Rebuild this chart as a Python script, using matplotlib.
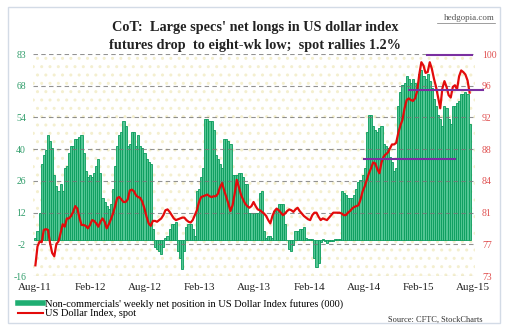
import numpy as np
import pandas as pd
import matplotlib
matplotlib.use("Agg")
import matplotlib.pyplot as plt
from matplotlib.lines import Line2D
from matplotlib.patches import Rectangle

# weekly net position of non-commercials in US dollar index futures (000 contracts)
net_longs = [
    1, 4, 12, 34, 38, 40, 47, 44, 41, 29, 24, 22, 25, 22, 32, 33, 39, 42, 42, 45,
    45, 46, 47, 39, 31, 28, 29, 28, 30, 33, 36, 30, 19, 17, 15, 14, 16, 23, 33, 42,
    47, 48, 53, 51, 42, 43, 48, 48, 42, 47, 42, 41, 39, 36, 35, 34, 5, -3, -4, -5,
    -6, -3, 1, 2, 5, 7, 7, 8, -5, -8, -13, -5, 6, 7, 7, 5, 2, 22, 23, 28,
    32, 54, 54, 53, 53, 49, 38, 36, 34, 32, 45, 45, 44, 43, 29, 29, 29, 30, 30, 28,
    25, 25, 12, 12, 12, 12, 12, 21, 22, 4, 1, 2, 2, 1, 13, 14, 16, 16, 16, 7,
    0, -4, -5, -2, 4, 4, 5, 5, 6, 1, 0.5, 0.3, 0.3, -8, -12, -10, -1, 0.5, -0.5, -1.5,
    -0.5, -0.5, -0.5, 0.5, 0.7, 0.7, 22, 21, 20, 19, 19, 19, 20, 23, 26, 27, 29, 32,
    48, 56, 56, 51, 49, 48, 50, 51, 43, 42, 41, 37, 35, 31, 32, 60, 66, 69, 70, 73,
    72, 70, 72, 70, 69, 74, 76, 73, 72, 74, 71, 68, 63, 60, 56, 54, 51, 60, 59, 54,
    52, 60, 60, 61, 62, 65, 65, 66, 65, 52,
]

# US dollar index, spot (weekly)
dxy = [
    74.3, 76.6, 77.2, 77.1, 78.6, 78.7, 78.6, 77.0, 75.8, 75.4, 76.9, 77.2, 78.2, 79.3, 79.0, 80.0,
    80.0, 80.3, 80.8, 81.5, 81.2, 80.1, 79.2, 79.2, 79.1, 78.8, 79.2, 79.8, 79.7, 79.4, 79.0, 79.6,
    80.0, 79.6, 78.8, 79.3, 79.9, 80.6, 81.5, 82.5, 82.6, 82.3, 82.0, 82.0, 82.3, 83.4, 83.5, 83.3,
    82.8, 82.6, 82.5, 82.0, 81.2, 80.2, 79.4, 79.1, 79.7, 79.7, 79.6, 79.8, 80.0, 80.4, 81.0, 81.1,
    80.8, 80.4, 80.0, 79.8, 79.9, 80.0, 80.1, 80.1, 79.8, 79.6, 79.5, 79.8, 80.4, 81.0, 82.0, 82.6,
    82.7, 82.8, 82.9, 82.7, 82.6, 82.7, 82.7, 83.0, 83.8, 84.3, 83.4, 82.6, 81.8, 80.9, 81.6, 83.0,
    84.7, 83.8, 82.9, 82.3, 81.8, 81.5, 81.3, 81.5, 82.0, 81.5, 81.1, 81.0, 80.8, 80.6, 80.3, 79.8,
    79.4, 80.3, 80.9, 81.2, 81.0, 80.7, 80.4, 80.6, 80.9, 81.1, 81.0, 80.8, 81.1, 81.3, 80.9, 80.6,
    80.3, 80.1, 79.9, 79.8, 80.4, 80.7, 80.7, 80.2, 79.8, 80.0, 79.9, 79.8, 80.1, 80.4, 80.7, 80.7,
    80.7, 80.7, 80.6, 80.4, 80.4, 80.7, 80.9, 81.2, 81.4, 81.5, 81.6, 82.3, 83.3, 83.9, 84.7, 85.5,
    86.1, 86.8, 86.7, 86.0, 85.5, 86.8, 87.5, 87.8, 88.0, 88.5, 89.0, 89.0, 89.2, 90.4, 91.3, 92.0,
    93.4, 94.4, 94.6, 94.4, 94.3, 94.6, 95.5, 97.5, 99.0, 98.6, 97.7, 97.8, 99.0, 98.2, 97.0, 96.0,
    94.7, 93.4, 95.8, 96.7, 96.0, 95.0, 94.7, 96.0, 96.2, 95.7, 97.3, 98.0, 97.8, 97.5, 96.8, 95.3,
]

dates = pd.date_range("2011-08-02", periods=len(net_longs), freq="7D")

left_ticks = ["-16", "-2", "12", "26", "40", "54", "68", "83"]
right_ticks = ["73", "77", "81", "84", "88", "92", "96", "100"]
xtick_dates = pd.date_range("2011-08-01", "2015-08-01", freq="6MS")
xtick_labels = [d.strftime("%b-%y") for d in xtick_dates]

# purple support/resistance lines on the spot index: (start, end, level)
levels = [("2015-03-01", "2015-07-30", 99.9),
          ("2015-01-01", "2015-09-05", 95.6),
          ("2014-08-01", "2015-06-01", 87.2)]

GREEN_FILL = "#52c593"
GREEN_EDGE = "#089b5c"
RED = "#e30b0b"
serif = "Liberation Serif"

fig = plt.figure(figsize=(5.10, 3.32), dpi=100)
fig.patch.set_facecolor("white")
fig.patches.append(Rectangle((8 / 510, 9 / 332), 492 / 510, 316 / 332,
                             transform=fig.transFigure, fill=False,
                             edgecolor="#d3dbe6", linewidth=1.0))

ax = fig.add_axes([33 / 510, 1 - 276 / 332, 442 / 510, 222 / 332])
ax.set_facecolor("none")
ax.patch.set_hatch("..")
ax.patch.set_edgecolor("#f4efcf")
ax.patch.set_linewidth(0)

ax.bar(dates, net_longs, width=7, color=GREEN_FILL, edgecolor=GREEN_EDGE,
       linewidth=0.6, zorder=2)
ax.set_ylim(-16, 83)
ax.set_yticks(np.linspace(-16, 83, 8))
ax.set_yticklabels(left_ticks, family=serif, fontsize=7, color="#2f9d6a")
ax.grid(axis="y", linestyle=(0, (4, 3)), color="#777777", linewidth=0.8, alpha=0.8, zorder=2.5)
ax.set_axisbelow(False)
for s in ax.spines.values():
    s.set_visible(False)
ax.tick_params(axis="y", length=0, pad=5)
ax.tick_params(axis="x", length=0, pad=5)

ax.set_xlim(pd.Timestamp("2011-07-25"), pd.Timestamp("2015-08-08"))
ax.set_xticks(xtick_dates)
ax.set_xticklabels(xtick_labels, family=serif, fontsize=8, color="#222222")

ax2 = ax.twinx()
ax2.set_ylim(73, 100)
ax2.set_yticks(np.linspace(73, 100, 8))
ax2.set_yticklabels(right_ticks, family=serif, fontsize=7, color="#e05050")
ax2.tick_params(axis="y", length=0, pad=5)
for s in ax2.spines.values():
    s.set_visible(False)
ax2.plot(dates, dxy, color=RED, linewidth=1.6, zorder=3)
for start, end, lvl in levels:
    ax2.plot([pd.Timestamp(start), pd.Timestamp(end)], [lvl, lvl], color="#7a2fa0",
             linewidth=1.5, zorder=4, clip_on=False)

fig.text(0.5, 1 - 27 / 332, "CoT:  Large specs' net longs in US dollar index",
         ha="center", va="center", family=serif, fontweight="bold", fontsize=10.3, color="#222222")
fig.text(0.5, 1 - 45 / 332, "futures drop  to eight-wk low;  spot rallies 1.2%",
         ha="center", va="center", family=serif, fontweight="bold", fontsize=10.3, color="#222222")
fig.text(495 / 510, 1 - 18 / 332, "hedgopia.com", ha="right", va="center",
         family=serif, fontsize=6.5, color="#555555")
fig.add_artist(Line2D([437 / 510, 495 / 510], [1 - 22.5 / 332, 1 - 22.5 / 332],
                      transform=fig.transFigure, color="#777777", linewidth=0.5))

handles = [Line2D([], [], color="#1fae72", linewidth=4),
           Line2D([], [], color=RED, linewidth=1.5)]
fig.legend(handles,
           ["Non-commercials' weekly net position in US Dollar Index futures (000)",
            "US Dollar Index, spot"],
           loc="upper left", bbox_to_anchor=(18 / 510, 1 - 299 / 332), frameon=False,
           prop={"family": serif, "size": 7.5}, handlelength=2.4, handletextpad=0.15,
           labelspacing=0.0, borderpad=0, borderaxespad=0)
fig.text(483 / 510, 1 - 320 / 332, "Source: CFTC, StockCharts", ha="right", va="center",
         family=serif, fontsize=6, color="#333333")

fig.savefig("out.png", dpi=100)
